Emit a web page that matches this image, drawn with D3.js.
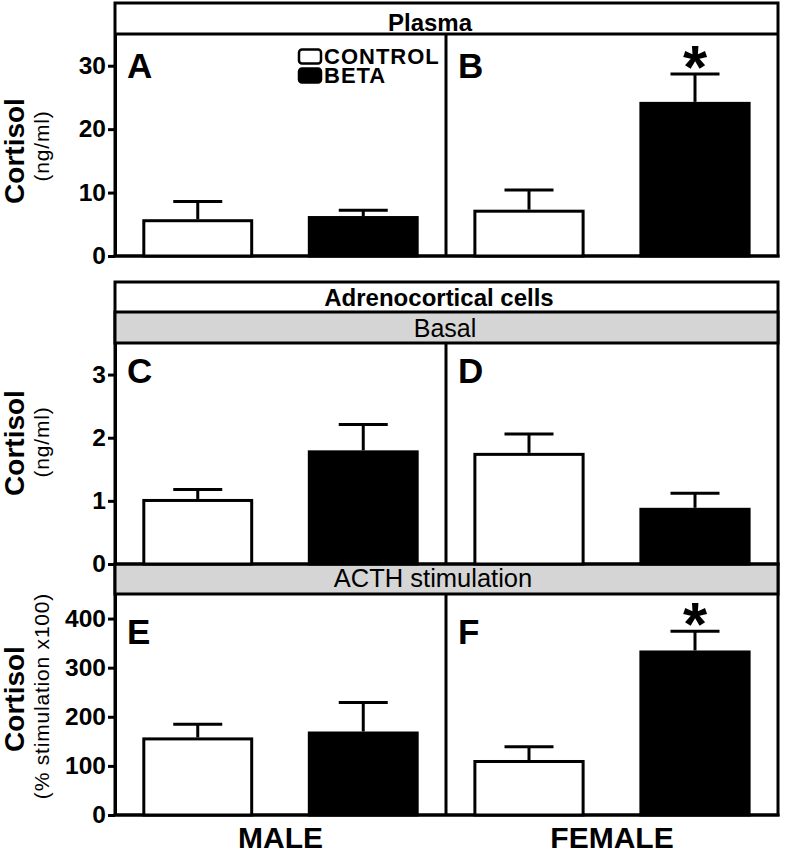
<!DOCTYPE html>
<html>
<head>
<meta charset="utf-8">
<script src="https://cdn.jsdelivr.net/npm/d3@7"></script>
<style>
  html, body { margin: 0; padding: 0; background: #fff; }
  svg { display: block; }
  text { font-family: "Liberation Sans", Arial, Helvetica, sans-serif; fill: #000; }
</style>
</head>
<body>
<svg id="chart" width="786" height="851"></svg>
<script>
// ---------------- data ----------------
const groups = ["CONTROL", "BETA"];
const sexes = ["MALE", "FEMALE"];
const panelLetters = ["A", "B", "C", "D", "E", "F"];

const plasmaMaleMean   = [5.8, 6.3];
const plasmaMaleSem    = [2.8, 0.9];
const plasmaFemaleMean = [7.3, 24.3];
const plasmaFemaleSem  = [3.1, 4.4];

const basalMaleMean    = [1.03, 1.80];
const basalMaleSem     = [0.15, 0.41];
const basalFemaleMean  = [1.76, 0.89];
const basalFemaleSem   = [0.30, 0.23];

const acthMaleMean     = [158, 170];
const acthMaleSem      = [27, 59];
const acthFemaleMean   = [112, 335];
const acthFemaleSem    = [27, 39];

const plasmaSig = [false, false, false, true];   // male ctrl, male beta, female ctrl, female beta
const basalSig  = [false, false, false, false];
const acthSig   = [false, false, false, true];

const plasmaTicks = [0, 10, 20, 30];
const basalTicks  = [0, 1, 2, 3];
const acthTicks   = [0, 100, 200, 300, 400];

const plasmaMax = 35, basalMax = 3.5, acthMax = 450;

const sectionTitles = ["Plasma", "Adrenocortical cells"];
const subTitles = ["Basal", "ACTH stimulation"];
const yTitle = "Cortisol";
const yUnits = ["(ng/ml)", "(ng/ml)", "(% stimulation x100)"];

// ---------------- layout ----------------
const svg = d3.select("#chart");
const L = 115, R = 778, M = 446;
const LW = 3;
const gray = "#d5d5d5";

const rows = [
  { top: 34,  bottom: 256, max: plasmaMax, ticks: plasmaTicks,
    means: [plasmaMaleMean, plasmaFemaleMean], sems: [plasmaMaleSem, plasmaFemaleSem], sig: plasmaSig,
    letterDy: 44, titleC: 151, unitC: 146, unit: yUnits[0] },
  { top: 343, bottom: 564, max: basalMax, ticks: basalTicks,
    means: [basalMaleMean, basalFemaleMean], sems: [basalMaleSem, basalFemaleSem], sig: basalSig,
    letterDy: 40, titleC: 443, unitC: 442, unit: yUnits[1] },
  { top: 594, bottom: 815, max: acthMax, ticks: acthTicks,
    means: [acthMaleMean, acthFemaleMean], sems: [acthMaleSem, acthFemaleSem], sig: acthSig,
    letterDy: 50, titleC: 699, unitC: 696, unit: yUnits[2] }
];

const panelsX = [[L, M], [M, R]];

// top section frame
svg.append("rect").attr("x", L).attr("y", 3).attr("width", R - L).attr("height", 256 - 3)
  .attr("fill", "#fff").attr("stroke", "#000").attr("stroke-width", LW);
// bottom section frame
svg.append("rect").attr("x", L).attr("y", 282).attr("width", R - L).attr("height", 815 - 282)
  .attr("fill", "#fff").attr("stroke", "#000").attr("stroke-width", LW);
// gray bands
svg.append("rect").attr("x", L).attr("y", 312).attr("width", R - L).attr("height", 343 - 312)
  .attr("fill", gray).attr("stroke", "#000").attr("stroke-width", LW);
svg.append("rect").attr("x", L).attr("y", 564).attr("width", R - L).attr("height", 594 - 564)
  .attr("fill", gray).attr("stroke", "#000").attr("stroke-width", LW);
// header separator
svg.append("line").attr("x1", L).attr("x2", R).attr("y1", 34).attr("y2", 34)
  .attr("stroke", "#000").attr("stroke-width", LW);

// header texts
svg.append("text").attr("x", 430).attr("y", 30.5).attr("text-anchor", "middle")
  .attr("font-size", 24).attr("font-weight", "bold").text(sectionTitles[0]);
svg.append("text").attr("x", 439).attr("y", 306).attr("text-anchor", "middle")
  .attr("font-size", 24).attr("font-weight", "bold").text(sectionTitles[1]);
svg.append("text").attr("x", 445).attr("y", 336.5).attr("text-anchor", "middle")
  .attr("font-size", 25).text(subTitles[0]);
svg.append("text").attr("x", 433).attr("y", 587).attr("text-anchor", "middle")
  .attr("font-size", 25.5).text(subTitles[1]);

// rows
rows.forEach((row, ri) => {
  const y = d3.scaleLinear().domain([0, row.max]).range([row.bottom, row.top]);

  // divider
  svg.append("line").attr("x1", M).attr("x2", M).attr("y1", row.top).attr("y2", row.bottom)
    .attr("stroke", "#000").attr("stroke-width", LW);

  // y axis
  const ax = svg.append("g").attr("transform", `translate(${L},0)`)
    .call(d3.axisLeft(y).tickValues(row.ticks).tickSize(7).tickSizeOuter(0).tickPadding(2).tickFormat(d3.format("d")));
  ax.select(".domain").attr("stroke", "#000").attr("stroke-width", LW);
  ax.selectAll(".tick line").attr("stroke", "#000").attr("stroke-width", LW);
  ax.selectAll(".tick text").attr("font-size", 24.5).attr("font-weight", "bold")
    .attr("font-family", "Liberation Sans, Arial, sans-serif").attr("fill", "#000");

  // baseline
  svg.append("line").attr("x1", L - 1.5).attr("x2", R + 1.5).attr("y1", row.bottom).attr("y2", row.bottom)
    .attr("stroke", "#000").attr("stroke-width", LW);

  // y title
  svg.append("text").attr("transform", `translate(24,${row.titleC}) rotate(-90)`)
    .attr("text-anchor", "middle").attr("font-size", 28).attr("font-weight", "bold").text(yTitle);
  svg.append("text").attr("transform", `translate(49,${row.unitC}) rotate(-90)`)
    .attr("text-anchor", "middle").attr("font-size", 21).attr("letter-spacing", 0.8).text(row.unit);

  panelsX.forEach((px, si) => {
    const x = d3.scaleBand().domain(groups).range(px).paddingInner(0.33).paddingOuter(0.165);
    const means = row.means[si], sems = row.sems[si];

    // panel letter
    svg.append("text").attr("x", px[0] + 12).attr("y", row.top + row.letterDy)
      .attr("font-size", 35).attr("font-weight", "bold").text(panelLetters[ri * 2 + si]);

    groups.forEach((g, gi) => {
      const x0 = x(g), bw = x.bandwidth(), cx = x0 + bw / 2;
      const yTop = y(means[gi]), yErr = y(means[gi] + sems[gi]);
      // error bar
      svg.append("line").attr("x1", cx).attr("x2", cx).attr("y1", yTop).attr("y2", yErr)
        .attr("stroke", "#000").attr("stroke-width", LW);
      svg.append("line").attr("x1", cx - 24.5).attr("x2", cx + 24.5).attr("y1", yErr).attr("y2", yErr)
        .attr("stroke", "#000").attr("stroke-width", LW);
      // bar
      svg.append("rect").attr("x", x0 + 1.5).attr("y", yTop + 1.5)
        .attr("width", bw - 3).attr("height", row.bottom - yTop - 1.5)
        .attr("fill", gi === 0 ? "#fff" : "#000").attr("stroke", "#000").attr("stroke-width", LW);
      // significance
      if (row.sig[si * 2 + gi]) {
        svg.append("text").attr("x", cx).attr("y", yErr + 14)
          .attr("text-anchor", "middle").attr("font-size", 62).attr("font-weight", "bold").text("*");
      }
    });
  });
});

// legend
const legY = [49.5, 68.5];
groups.forEach((g, gi) => {
  svg.append("rect").attr("x", 299).attr("y", legY[gi]).attr("width", 22).attr("height", 14).attr("rx", 3)
    .attr("fill", gi === 0 ? "#fff" : "#000").attr("stroke", "#000").attr("stroke-width", 2.5);
  svg.append("text").attr("x", 324).attr("y", legY[gi] + 14.5)
    .attr("font-size", 22).attr("font-weight", "bold").attr("letter-spacing", 1).text(g);
});

// x labels
sexes.forEach((s, si) => {
  svg.append("text").attr("x", (panelsX[si][0] + panelsX[si][1]) / 2).attr("y", 848)
    .attr("text-anchor", "middle").attr("font-size", 30).attr("font-weight", "bold").text(s);
});
</script>
</body>
</html>
